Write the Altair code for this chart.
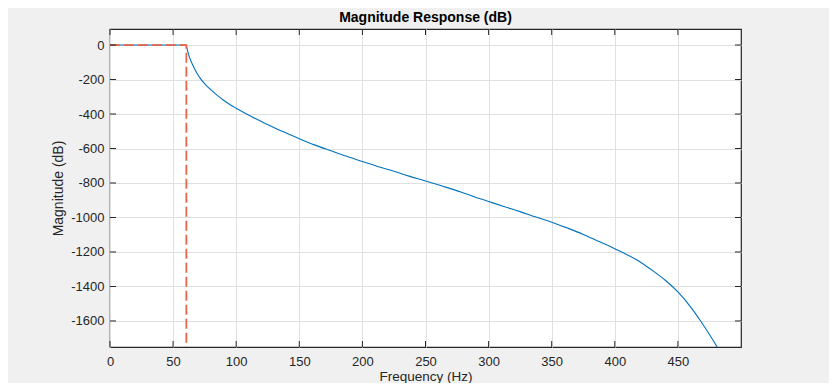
import altair as alt
import pandas as pd

# Magnitude response (blue)
freq = [0, 20, 40, 60.5, 61.0, 61.6, 62.5, 63.7, 66, 68, 71.7, 76, 80, 85, 90, 95, 100,
        112, 125, 137, 150, 162, 175, 187, 200, 212, 225, 237, 250, 262, 278, 288, 300,
        312, 325, 337, 350, 362, 375, 387, 400, 421, 430, 440, 450, 460, 468, 476, 481, 486]
mag = [0, 0, 0, 0, -20, -37, -60, -85, -122, -152, -195, -232, -260, -292, -320, -345, -367,
       -415, -461, -502, -543, -579, -613, -644, -675, -704, -732, -760, -788, -815, -852, -878, -907,
       -936, -966, -996, -1027, -1060, -1098, -1138, -1181, -1262, -1308, -1364, -1432, -1518,
       -1600, -1690, -1750, -1812]

# Specification mask (red dashed)
mask_freq = [0, 60.5, 60.5]
mask_mag = [0, 0, -1800]

x_ticks = [0, 50, 100, 150, 200, 250, 300, 350, 400, 450]
y_ticks = [0, -200, -400, -600, -800, -1000, -1200, -1400, -1600]

FONT = "Liberation Sans, Arial, Helvetica, sans-serif"
W, H = 631, 318

df = pd.DataFrame({"f": freq, "m": mag, "i": list(range(len(freq)))})
mask_df = pd.DataFrame({"f": mask_freq, "m": mask_mag, "i": list(range(len(mask_freq)))})
xt_df = pd.DataFrame({"f": x_ticks})
yt_df = pd.DataFrame({"m": y_ticks})

xscale = alt.Scale(domain=[0, 500], nice=False, zero=False)
yscale = alt.Scale(domain=[-1751, 93], nice=False, zero=False)

xaxis = alt.Axis(values=x_ticks, title="Frequency (Hz)", grid=True, ticks=False, domain=False,
                 labelPadding=8, labelFontSize=13, titleFontSize=13.5,
                 labelColor="#262626", titleColor="#262626", labelFont=FONT, titleFont=FONT,
                 titleFontWeight="normal", gridColor="#e0e0e0", labelFlush=False,
                 labelOverlap=False, labelExpr="datum.value + ''",
                 titleY=33, titleBaseline="alphabetic")
yaxis = alt.Axis(values=y_ticks, title="Magnitude (dB)", grid=True, ticks=False, domain=False,
                 labelPadding=6, titlePadding=5, labelFontSize=13, titleFontSize=14,
                 labelColor="#262626", titleColor="#262626", labelFont=FONT, titleFont=FONT,
                 titleFontWeight="normal", gridColor="#e0e0e0", labelFlush=False,
                 labelOverlap=False, labelExpr="datum.value + ''")

X = alt.X("f:Q", scale=xscale, axis=xaxis)
Y = alt.Y("m:Q", scale=yscale, axis=yaxis)

blue = alt.Chart(df).mark_line(color="#0072BD", strokeWidth=1.1, clip=True,
                               interpolate="monotone").encode(
    x=X, y=Y, order=alt.Order("i:Q"),
)

red = alt.Chart(mask_df).mark_line(color="#E5664A", strokeWidth=1.8, strokeDash=[10, 4], clip=True).encode(
    x=X, y=Y, order=alt.Order("i:Q"),
)

tick_color = "#262626"
xt_bottom = alt.Chart(xt_df).mark_rule(color=tick_color, strokeWidth=1).encode(
    x=X, y=alt.value(H), y2=alt.value(H - 6))
xt_top = alt.Chart(xt_df).mark_rule(color=tick_color, strokeWidth=1).encode(
    x=X, y=alt.value(0), y2=alt.value(6))
yt_left = alt.Chart(yt_df).mark_rule(color=tick_color, strokeWidth=1).encode(
    y=Y, x=alt.value(0), x2=alt.value(6))
yt_right = alt.Chart(yt_df).mark_rule(color=tick_color, strokeWidth=1).encode(
    y=Y, x=alt.value(W), x2=alt.value(W - 6))

chart = alt.layer(blue, red, xt_bottom, xt_top, yt_left, yt_right).properties(
    width=W, height=H,
    title=alt.TitleParams("Magnitude Response (dB)", font=FONT, fontSize=14, fontWeight="bold",
                          color="#000000", offset=4, anchor="middle"),
    background="#f0f0f0",
    autosize=alt.AutoSizeParams(type="none"),
    padding={"left": 102, "top": 21, "right": 88, "bottom": 36},
).configure_view(stroke="#262626", strokeWidth=1.2, fill="white")

chart.save("out.html", embed_options={"renderer": "svg", "actions": False})
